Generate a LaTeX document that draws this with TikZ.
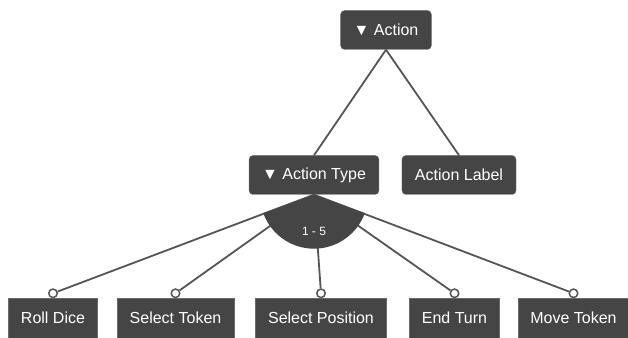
\documentclass[tikz,border=0pt]{standalone}
\usepackage{fontspec}
\setmainfont{Liberation Sans}
\usepackage{tikz}
\usetikzlibrary{positioning,calc}

\definecolor{boxgray}{HTML}{454545}
\definecolor{linegray}{HTML}{555555}

\begin{document}
\begin{tikzpicture}[
    x=1pt, y=1pt,
    font=\fontsize{16}{18}\selectfont,
    block/.style={rectangle, fill=boxgray, draw=boxgray!80!white, text=white, rounded corners=4pt, minimum height=39pt, inner xsep=13pt},
    leaf/.style={rectangle, fill=boxgray, draw=boxgray!80!white, text=white, minimum height=40pt, inner xsep=12.5pt},
    knob/.style={circle, draw=linegray, fill=white, line width=1.5pt, inner sep=0pt, minimum size=8.5pt},
    line/.style={draw=linegray, line width=1.8pt}
]
    \useasboundingbox (0,0) rectangle (628,337);

    % Nodes
    \node [block] (action) at (386,307) {▼ Action};
    \node [block] (type) at (314,162) {▼ Action Type};
    \node [block] (label) at (459,162) {Action Label};

    \node [leaf] (dice) at (53,19) {Roll Dice};
    \node [leaf] (token) at (175.5,19) {Select Token};
    \node [leaf] (position) at (321,19) {Select Position};
    \node [leaf] (endturn) at (454.5,19) {End Turn};
    \node [leaf] (move) at (573.5,19) {Move Token};

    \node [knob, above=-0.5pt of dice] (dice-knob) {};
    \node [knob, above=-0.5pt of token] (token-knob) {};
    \node [knob, above=-0.5pt of position] (position-knob) {};
    \node [knob, above=-0.5pt of endturn] (endturn-knob) {};
    \node [knob, above=-0.5pt of move] (move-knob) {};

    % Connections
    \draw [line] (action.south) -- (type.north);
    \draw [line] (action.south) -- (label.north);
    \foreach \k in {dice,token,position,endturn,move}
        \draw [line] (type.south) -- (\k-knob);

    % Cardinality sector
    \fill [boxgray] (type.south) -- ++(200:54) arc (200:340:54) -- cycle;
    \node [text=white, font=\fontsize{12}{14}\selectfont] (range) at (314,106) {1 - 5};
\end{tikzpicture}
\end{document}
